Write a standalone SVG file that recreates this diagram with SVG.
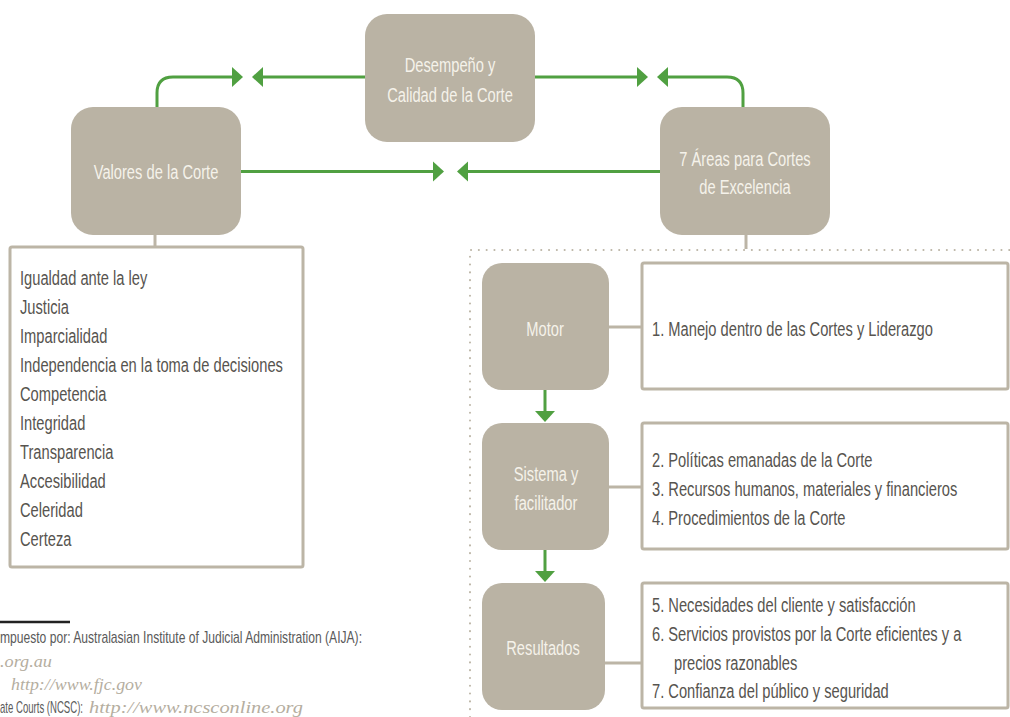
<svg xmlns="http://www.w3.org/2000/svg" width="1010" height="717" viewBox="0 0 1010 717">
<style>
.node{fill:#bab3a4}
.nt{font-family:"Liberation Sans",Arial,sans-serif;font-size:21px;fill:#f5f2ea;text-anchor:middle}
.bt{font-family:"Liberation Sans",Arial,sans-serif;font-size:21px;fill:#57544f}
.box{fill:#fff;stroke:#bcb5a6;stroke-width:3}
.gl{fill:none;stroke:#bcb5a6;stroke-width:3}
.arr{fill:none;stroke:#50a041;stroke-width:3}
.dot{fill:none;stroke:#bcb5a6;stroke-width:2;stroke-dasharray:0.1 7.7;stroke-linecap:round}
.fs{font-family:"Liberation Sans",Arial,sans-serif;font-size:17px;fill:#5a5a5a}
.fi{font-family:"Liberation Serif","Times New Roman",serif;font-style:italic;font-size:17.5px;fill:#b5ae9f}
</style>
<defs>
<marker id="ah" markerUnits="userSpaceOnUse" markerWidth="12" markerHeight="22" viewBox="0 -11 12 22" refX="0" refY="0" orient="auto">
<path d="M0,-10 L11,0 L0,10 z" fill="#50a041"/>
</marker>
</defs>

<g id="connectors">
<path class="arr" d="M157,107 V93 Q157,77 173,77 H232" marker-end="url(#ah)"/>
<path class="arr" d="M365,77 H263" marker-end="url(#ah)"/>
<path class="arr" d="M535,77 H637" marker-end="url(#ah)"/>
<path class="arr" d="M743,107 V93 Q743,77 727,77 H668" marker-end="url(#ah)"/>
<path class="arr" d="M241,171.5 H433" marker-end="url(#ah)"/>
<path class="arr" d="M660,171.5 H468" marker-end="url(#ah)"/>
<path class="arr" d="M545,390 V411" marker-end="url(#ah)"/>
<path class="arr" d="M545,550 V571" marker-end="url(#ah)"/>
<path class="gl" d="M155,235 V247"/>
<path class="gl" d="M746,235 V249"/>
<path class="gl" d="M609,327 H642"/>
<path class="gl" d="M609,487 H642"/>
<path class="gl" d="M605,663 H642"/>
<path class="dot" d="M470,717 V250 H1010"/>
</g>

<g id="desempeno">
<rect class="node" x="365" y="14" width="170" height="128" rx="22"/>
<text class="nt" transform="translate(450,72) scale(0.7,1)">Desempeño y</text>
<text class="nt" transform="translate(450,102) scale(0.7,1)">Calidad de la Corte</text>
</g>

<g id="valores">
<rect class="node" x="71" y="107" width="170" height="128" rx="22"/>
<text class="nt" transform="translate(156,179) scale(0.7,1)">Valores de la Corte</text>
</g>

<g id="areas">
<rect class="node" x="660" y="107" width="170" height="128" rx="22"/>
<text class="nt" transform="translate(745,166) scale(0.7,1)">7 Áreas para Cortes</text>
<text class="nt" transform="translate(745,194) scale(0.7,1)">de Excelencia</text>
</g>

<g id="valores-lista">
<rect class="box" x="10" y="247" width="293" height="320" rx="2"/>
<text class="bt" transform="translate(20,285) scale(0.7,1)">Igualdad ante la ley</text>
<text class="bt" transform="translate(20,314) scale(0.7,1)">Justicia</text>
<text class="bt" transform="translate(20,343) scale(0.7,1)">Imparcialidad</text>
<text class="bt" transform="translate(20,372) scale(0.7,1)">Independencia en la toma de decisiones</text>
<text class="bt" transform="translate(20,401) scale(0.7,1)">Competencia</text>
<text class="bt" transform="translate(20,430) scale(0.7,1)">Integridad</text>
<text class="bt" transform="translate(20,459) scale(0.7,1)">Transparencia</text>
<text class="bt" transform="translate(20,488) scale(0.7,1)">Accesibilidad</text>
<text class="bt" transform="translate(20,517) scale(0.7,1)">Celeridad</text>
<text class="bt" transform="translate(20,546) scale(0.7,1)">Certeza</text>
</g>

<g id="motor">
<rect class="node" x="482" y="263" width="127" height="127" rx="20"/>
<text class="nt" transform="translate(545,336) scale(0.7,1)">Motor</text>
</g>

<g id="motor-detalle">
<rect class="box" x="642" y="263" width="366" height="126" rx="2"/>
<text class="bt" transform="translate(652,336) scale(0.7,1)">1. Manejo dentro de las Cortes y Liderazgo</text>
</g>

<g id="sistema">
<rect class="node" x="482" y="423" width="127" height="127" rx="20"/>
<text class="nt" transform="translate(546,481) scale(0.7,1)">Sistema y</text>
<text class="nt" transform="translate(546,510) scale(0.7,1)">facilitador</text>
</g>

<g id="sistema-detalle">
<rect class="box" x="642" y="423" width="366" height="126" rx="2"/>
<text class="bt" transform="translate(652,467) scale(0.7,1)">2. Políticas emanadas de la Corte</text>
<text class="bt" transform="translate(652,496) scale(0.7,1)">3. Recursos humanos, materiales y financieros</text>
<text class="bt" transform="translate(652,525) scale(0.7,1)">4. Procedimientos de la Corte</text>
</g>

<g id="resultados">
<rect class="node" x="482" y="583" width="123" height="127" rx="20"/>
<text class="nt" transform="translate(543,655) scale(0.7,1)">Resultados</text>
</g>

<g id="resultados-detalle">
<rect class="box" x="642" y="583" width="366" height="125" rx="2"/>
<text class="bt" transform="translate(652,612) scale(0.7,1)">5. Necesidades del cliente y satisfacción</text>
<text class="bt" transform="translate(652,641) scale(0.7,1)">6. Servicios provistos por la Corte eficientes y a</text>
<text class="bt" transform="translate(674,670) scale(0.7,1)">precios razonables</text>
<text class="bt" transform="translate(652,698) scale(0.7,1)">7. Confianza del público y seguridad</text>
</g>

<g id="footnote">
<line x1="0" y1="622" x2="70" y2="622" stroke="#222" stroke-width="2.5"/>
<text class="fs" x="0" y="643" textLength="362" lengthAdjust="spacingAndGlyphs">mpuesto por: Australasian Institute of Judicial Administration (AIJA):</text>
<text class="fi" x="0" y="667" textLength="52" lengthAdjust="spacingAndGlyphs">.org.au</text>
<text class="fi" x="11" y="690" textLength="131" lengthAdjust="spacingAndGlyphs">http://www.fjc.gov</text>
<text class="fs" x="0" y="713" textLength="83" lengthAdjust="spacingAndGlyphs">ate Courts (NCSC):</text>
<text class="fi" x="89" y="713" textLength="214" lengthAdjust="spacingAndGlyphs">http://www.ncsconline.org</text>
</g>
</svg>
